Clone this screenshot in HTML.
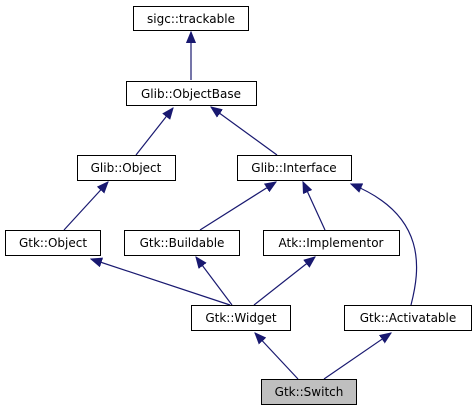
<!DOCTYPE html>
<html><head><meta charset="utf-8"><style>
html,body{margin:0;padding:0;background:#fff;width:476px;height:411px;overflow:hidden}
text{font-family:"DejaVu Sans","Liberation Sans",sans-serif;font-size:12px;fill:#000}
</style></head><body>
<svg width="476" height="411" viewBox="0 0 476 411" xmlns="http://www.w3.org/2000/svg">
<defs>
<marker id="a" markerWidth="12" markerHeight="10" refX="11" refY="5" orient="auto" markerUnits="userSpaceOnUse">
<polygon points="0,0.5 11,5 0,9.5" fill="#191970" stroke="#191970"/>
</marker>
</defs>
<g stroke="#191970" stroke-width="1.2" fill="none" marker-end="url(#a)">
<line x1="191" y1="80" x2="191" y2="32"/>
<line x1="136" y1="155" x2="173" y2="108"/>
<line x1="277" y1="155" x2="211" y2="107"/>
<line x1="64" y1="230" x2="108" y2="182"/>
<line x1="200" y1="230" x2="276" y2="182"/>
<line x1="325" y1="230" x2="303" y2="182"/>
<path d="M411,305 C420,270 428,215 351,184"/>
<line x1="230" y1="305" x2="91" y2="259"/>
<line x1="232" y1="305" x2="196" y2="257"/>
<line x1="254" y1="305" x2="315" y2="257"/>
<line x1="298" y1="379" x2="255" y2="333"/>
<line x1="324" y1="379" x2="391" y2="333"/>
</g>
<g stroke="#000" stroke-width="1" fill="#fff">
<rect x="133.5" y="6.5" width="115" height="24"/>
<rect x="126.5" y="81.5" width="130" height="24"/>
<rect x="77.5" y="155.5" width="98" height="25"/>
<rect x="237.5" y="155.5" width="114" height="25"/>
<rect x="5.5" y="230.5" width="95" height="25"/>
<rect x="124.5" y="230.5" width="115" height="25"/>
<rect x="263.5" y="230.5" width="136" height="25"/>
<rect x="191.5" y="305.5" width="99" height="25"/>
<rect x="344.5" y="305.5" width="127" height="25"/>
<rect x="261.5" y="379.5" width="95" height="25" fill="#bfbfbf"/>
</g>
<g text-anchor="middle">
<text x="191" y="23">sigc::trackable</text>
<text x="191" y="98">Glib::ObjectBase</text>
<text x="126" y="172">Glib::Object</text>
<text x="294" y="172">Glib::Interface</text>
<text x="53" y="247">Gtk::Object</text>
<text x="182" y="247">Gtk::Buildable</text>
<text x="331" y="247">Atk::Implementor</text>
<text x="241" y="322">Gtk::Widget</text>
<text x="408" y="322">Gtk::Activatable</text>
<text x="309" y="396">Gtk::Switch</text>
</g>
</svg>
</body></html>
